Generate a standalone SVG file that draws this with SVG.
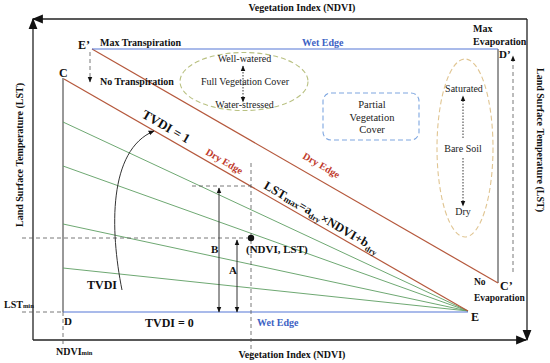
<svg xmlns="http://www.w3.org/2000/svg" width="550" height="363" viewBox="0 0 550 363">
<style>
.b{font-family:"Liberation Serif","Times New Roman",serif;font-weight:bold;fill:#111}
.r{font-family:"Liberation Serif","Times New Roman",serif;fill:#222}
.ax{stroke:#222;stroke-width:1.3;fill:none}
.dk{stroke:#333;stroke-width:1;fill:none}
.red{stroke:#b5583c;stroke-width:1.2;fill:none}
.grn{stroke:#5e9e62;stroke-width:0.9;fill:none}
.blu{stroke:#5576d6;stroke-width:1.2;fill:none}
.dash{stroke:#555;stroke-width:0.8;stroke-dasharray:4,3;fill:none}
.dot{stroke:#222;stroke-width:0.9;stroke-dasharray:1.5,1.5;fill:none}
.wet{fill:#3d62c4}
.dry{fill:#c0392b}
</style>
<defs>
<marker id="ah" viewBox="0 0 10 10" refX="9" refY="5" markerWidth="7" markerHeight="7" orient="auto" markerUnits="userSpaceOnUse"><path d="M0,1 L10,5 L0,9 Z" fill="#111"/></marker>
<marker id="ahs" viewBox="0 0 10 10" refX="9" refY="5" markerWidth="6" markerHeight="6" orient="auto-start-reverse" markerUnits="userSpaceOnUse"><path d="M0,1 L10,5 L0,9 Z" fill="#111"/></marker>
<marker id="big" viewBox="0 0 10 10" refX="9" refY="5" markerWidth="11" markerHeight="11" orient="auto" markerUnits="userSpaceOnUse"><path d="M0,1 L10,5 L0,9 Z" fill="#111"/></marker>
</defs>

<g id="connectors">
  <!-- outer axes frame -->
  <line class="ax" x1="33" y1="340" x2="33" y2="19" marker-end="url(#big)"/>
  <line class="ax" x1="527" y1="19" x2="33" y2="19" marker-end="url(#big)"/>
  <line class="ax" x1="527" y1="19" x2="527" y2="340" marker-end="url(#big)"/>
  <line class="ax" x1="33" y1="340" x2="526" y2="340" marker-end="url(#big)"/>

  <!-- inner verticals -->
  <line class="dk" x1="63" y1="78" x2="63" y2="312"/>
  <line class="dk" x1="498" y1="49" x2="498" y2="283"/>

  <!-- green TVDI isolines -->
  <line class="grn" x1="63" y1="122" x2="468" y2="311"/>
  <line class="grn" x1="63" y1="166" x2="468" y2="311"/>
  <line class="grn" x1="63" y1="224" x2="468" y2="311"/>
  <line class="grn" x1="63" y1="268" x2="468" y2="311"/>

  <!-- dry edges -->
  <line class="red" x1="64" y1="79" x2="468" y2="311"/>
  <line class="red" x1="92" y1="49" x2="498" y2="283"/>

  <!-- wet edges -->
  <line class="blu" x1="92" y1="49" x2="498" y2="49"/>
  <line class="blu" x1="63" y1="312" x2="468" y2="312"/>

  <!-- dashed guides -->
  <line class="dash" x1="22" y1="238" x2="251" y2="238"/>
  <line class="dash" x1="251" y1="163" x2="251" y2="360"/>
  <line class="dash" x1="192" y1="186" x2="251" y2="186"/>
  <line class="dash" x1="22" y1="312" x2="63" y2="312"/>
  <line class="dash" x1="63" y1="312" x2="63" y2="345"/>
  <line class="dash" x1="90" y1="52" x2="90" y2="82" marker-end="url(#ahs)"/>
  <line class="dash" x1="513" y1="272" x2="513" y2="56" stroke-dasharray="6,4" marker-end="url(#ahs)"/>

  <!-- A and B arrows -->
  <line class="dk" x1="219" y1="188" x2="219" y2="312" marker-start="url(#ahs)" marker-end="url(#ahs)"/>
  <line class="dk" x1="237" y1="240" x2="237" y2="312" marker-start="url(#ahs)" marker-end="url(#ahs)"/>

  <!-- TVDI curve -->
  <path class="dk" d="M122,290 C110,230 108,150 154,131" marker-end="url(#ahs)"/>

  <!-- dotted arrows in zones -->
  <line class="dot" x1="243" y1="66" x2="243" y2="102" marker-start="url(#ahs)" marker-end="url(#ahs)"/>
  <line class="dot" x1="463" y1="138" x2="463" y2="96" marker-end="url(#ahs)"/>
  <line class="dot" x1="463" y1="158" x2="463" y2="206" marker-end="url(#ahs)"/>
</g>

<g id="axis-labels">
  <text class="b" x="302" y="11" font-size="10" text-anchor="middle">Vegetation Index (NDVI)</text>
  <text class="b" x="292" y="358" font-size="10" text-anchor="middle">Vegetation Index (NDVI)</text>
  <text class="b" font-size="10" text-anchor="middle" transform="translate(23,155) rotate(-90)">Land Surface Temperature (LST)</text>
  <text class="b" font-size="10" text-anchor="middle" transform="translate(537,140) rotate(90)">Land Surface Temperature (LST)</text>
  <text class="b" x="4" y="308" font-size="10">LST<tspan font-size="6.5">min</tspan></text>
  <text class="b" x="56" y="355" font-size="10">NDVI<tspan font-size="6.5">min</tspan></text>
</g>

<g id="node-Eprime">
  <text class="b" x="78" y="49" font-size="12">E’</text>
  <text class="b" x="100" y="46" font-size="10">Max Transpiration</text>
  <text class="b" x="100" y="85" font-size="10">No Transpiration</text>
</g>
<g id="node-C"><text class="b" x="59" y="77" font-size="12">C</text></g>
<g id="node-D"><text class="b" x="64" y="325" font-size="11">D</text></g>
<g id="node-E"><text class="b" x="471" y="321" font-size="12">E</text></g>
<g id="node-Dprime">
  <text class="b" x="473" y="32" font-size="10">Max</text>
  <text class="b" x="473" y="45" font-size="10">Evaporation</text>
  <text class="b" x="499" y="58" font-size="11">D’</text>
</g>
<g id="node-Cprime">
  <text class="b" x="500" y="290" font-size="12">C’</text>
  <text class="b" x="474" y="285" font-size="9.5">No</text>
  <text class="b" x="474" y="301" font-size="9.5">Evaporation</text>
</g>

<g id="edge-labels">
  <text class="b wet" x="302" y="46" font-size="10">Wet Edge</text>
  <text class="b wet" x="257" y="326" font-size="10">Wet Edge</text>
  <text class="b" x="145" y="327" font-size="12">TVDI = 0</text>
  <text class="b" font-size="13" transform="translate(141,117) rotate(30)">TVDI = 1</text>
  <text class="b dry" font-size="10" transform="translate(205,154) rotate(30)">Dry Edge</text>
  <text class="b dry" font-size="10" transform="translate(302,158) rotate(30)">Dry Edge</text>
  <text class="b" font-size="12.5" transform="translate(263,188) rotate(30)">LST<tspan font-size="9" dy="1">max</tspan><tspan dy="-1">=a</tspan><tspan font-size="8" dy="3">dry</tspan><tspan dy="-3">×NDVI+b</tspan><tspan font-size="8" dy="3">dry</tspan></text>
</g>

<g id="node-point">
  <circle cx="251" cy="238" r="3.2" fill="#111"/>
  <text class="b" x="246" y="253" font-size="11">(NDVI, LST)</text>
  <text class="b" x="211" y="253" font-size="11">B</text>
  <text class="b" x="229" y="274" font-size="11">A</text>
  <text class="b" x="87" y="289" font-size="12">TVDI</text>
</g>

<g id="node-full-vegetation">
  <ellipse cx="244" cy="81.5" rx="64" ry="29" fill="none" stroke="#b9c182" stroke-width="1.1" stroke-dasharray="5,3"/>
  <text class="r" x="244.5" y="62" font-size="10" text-anchor="middle">Well-watered</text>
  <text class="r" x="245" y="85" font-size="10" text-anchor="middle">Full Vegetation Cover</text>
  <text class="r" x="244.5" y="108" font-size="10" text-anchor="middle">Water-stressed</text>
</g>

<g id="node-partial-vegetation">
  <rect x="323" y="93" width="96" height="47" rx="8" fill="none" stroke="#7ea6e0" stroke-width="1.1" stroke-dasharray="5,3"/>
  <text class="r" x="372" y="108" font-size="10.5" text-anchor="middle">Partial</text>
  <text class="r" x="372" y="121" font-size="10.5" text-anchor="middle">Vegetation</text>
  <text class="r" x="372" y="133" font-size="10.5" text-anchor="middle">Cover</text>
</g>

<g id="node-bare-soil">
  <ellipse cx="465" cy="148" rx="28" ry="89" fill="none" stroke="#e0c592" stroke-width="1.1" stroke-dasharray="5,3"/>
  <text class="r" x="464" y="92" font-size="10" text-anchor="middle">Saturated</text>
  <text class="r" x="463" y="152" font-size="10" text-anchor="middle">Bare Soil</text>
  <text class="r" x="463" y="215" font-size="10" text-anchor="middle">Dry</text>
</g>
</svg>
